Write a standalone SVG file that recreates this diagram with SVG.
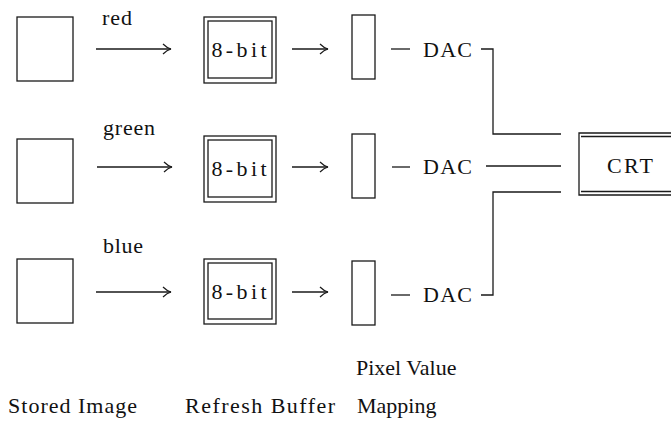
<svg xmlns="http://www.w3.org/2000/svg" width="671" height="421" viewBox="0 0 671 421">
  <style>
    .box { fill: none; stroke: #1a1a1a; stroke-width: 1.3; }
    .ln { fill: none; stroke: #1a1a1a; stroke-width: 1.3; }
    .t { font-family: "Liberation Serif", "Times New Roman", serif; font-size: 22px; fill: #111; }
    .c { text-anchor: middle; }
  </style>
  <defs>
    <marker id="arr" viewBox="-10 -6 12 12" markerWidth="12" markerHeight="12" refX="0" refY="0" orient="auto" markerUnits="userSpaceOnUse">
      <path d="M-8,-5 Q-4,-1 0,0 Q-4,1 -8,5" fill="none" stroke="#1a1a1a" stroke-width="1.2"/>
    </marker>
  </defs>
  <rect width="671" height="421" fill="#fff"/>

  <!-- stored images -->
  <g id="stored-red"><rect class="box" x="17" y="17" width="56" height="64"/></g>
  <g id="stored-green"><rect class="box" x="17" y="139" width="56" height="64"/></g>
  <g id="stored-blue"><rect class="box" x="17" y="259" width="56" height="64"/></g>

  <!-- channel labels -->
  <text class="t" x="102" y="25" textLength="30">red</text>
  <text class="t" x="103" y="135" textLength="52">green</text>
  <text class="t" x="103" y="253" textLength="40">blue</text>

  <!-- refresh buffers -->
  <g id="buffer-red">
    <rect class="box" x="204" y="17" width="72" height="66"/>
    <rect class="box" x="208" y="21" width="64" height="57"/>
    <text class="t c" x="239" y="57" textLength="55">8-bit</text>
  </g>
  <g id="buffer-green">
    <rect class="box" x="204" y="136" width="72" height="66"/>
    <rect class="box" x="208" y="140" width="64" height="57"/>
    <text class="t c" x="239" y="176" textLength="55">8-bit</text>
  </g>
  <g id="buffer-blue">
    <rect class="box" x="204" y="259" width="72" height="65"/>
    <rect class="box" x="208" y="263" width="64" height="56"/>
    <text class="t c" x="239" y="299" textLength="55">8-bit</text>
  </g>

  <!-- pixel value mapping tables -->
  <g id="map-red"><rect class="box" x="352" y="15" width="23" height="64"/></g>
  <g id="map-green"><rect class="box" x="352" y="134" width="23" height="64"/></g>
  <g id="map-blue"><rect class="box" x="352" y="261" width="23" height="64"/></g>

  <!-- converters -->
  <g id="dac-red"><text class="t" x="423" y="57" textLength="49">DAC</text></g>
  <g id="dac-green"><text class="t" x="423" y="174" textLength="49">DAC</text></g>
  <g id="dac-blue"><text class="t" x="423" y="302" textLength="49">DAC</text></g>

  <!-- monitor -->
  <g id="crt">
    <path class="ln" d="M671,133 H579 V195 H671"/>
    <path class="ln" d="M581,136.5 H671 M581,191.5 H671"/>
    <text class="t c" x="630" y="173" textLength="46">CRT</text>
  </g>

  <!-- connectors -->
  <g id="connectors">
    <line class="ln" x1="96" y1="49" x2="171" y2="49" marker-end="url(#arr)"/>
    <line class="ln" x1="97" y1="167" x2="172" y2="167" marker-end="url(#arr)"/>
    <line class="ln" x1="96" y1="292" x2="171" y2="292" marker-end="url(#arr)"/>

    <line class="ln" x1="292" y1="49" x2="328" y2="49" marker-end="url(#arr)"/>
    <line class="ln" x1="292" y1="167" x2="328" y2="167" marker-end="url(#arr)"/>
    <line class="ln" x1="292" y1="292" x2="328" y2="292" marker-end="url(#arr)"/>

    <line class="ln" x1="391" y1="49" x2="410" y2="49"/>
    <line class="ln" x1="392" y1="167" x2="410" y2="167"/>
    <line class="ln" x1="391" y1="295" x2="410" y2="295"/>

    <path class="ln" d="M481,49 H493 V134 H561"/>
    <path class="ln" d="M486,166 H561"/>
    <path class="ln" d="M481,295 H493 V192 H561"/>
  </g>

  <!-- column captions -->
  <text class="t" x="356" y="375">Pixel Value</text>
  <text class="t" x="8" y="413" textLength="129">Stored Image</text>
  <text class="t" x="185" y="413" textLength="150">Refresh Buffer</text>
  <text class="t" x="357" y="413">Mapping</text>
</svg>
